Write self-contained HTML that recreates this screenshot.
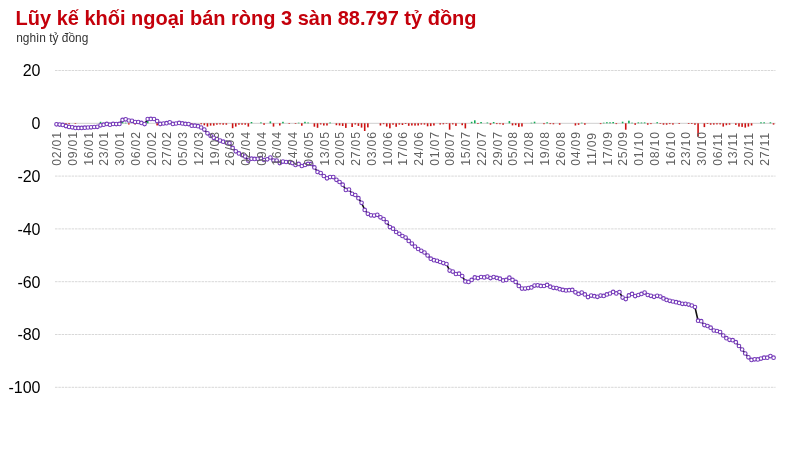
<!DOCTYPE html>
<html><head><meta charset="utf-8"><title>Lũy kế khối ngoại</title>
<style>
html,body{margin:0;padding:0;background:#fff;}
body{width:800px;height:452px;overflow:hidden;position:relative;}
svg{position:absolute;left:0;top:0;display:block;}
text{font-family:"Liberation Sans",Arial,Helvetica,sans-serif;}
svg{will-change:transform;}
</style></head><body>
<svg width="800" height="452" viewBox="0 0 800 452">
<rect width="800" height="452" fill="#fff"/>
<text transform="translate(15.6,25.3) scale(1,1.04)" font-size="20" font-weight="bold" fill="#c4000b">Lũy kế khối ngoại bán ròng 3 sàn 88.797 tỷ đồng</text>
<text x="16.2" y="42.2" font-size="11.9" fill="#333">nghìn tỷ đồng</text>

<line x1="55" x2="775.5" y1="70.50" y2="70.50" stroke="#d8d8d8" stroke-width="1" stroke-dasharray="2.5 0.83"/>
<text x="40.5" y="76.30" font-size="16" text-anchor="end" fill="#000">20</text>
<text x="40.5" y="129.10" font-size="16" text-anchor="end" fill="#000">0</text>
<line x1="55" x2="775.5" y1="176.10" y2="176.10" stroke="#d8d8d8" stroke-width="1" stroke-dasharray="2.5 0.83"/>
<text x="40.5" y="181.90" font-size="16" text-anchor="end" fill="#000">-20</text>
<line x1="55" x2="775.5" y1="228.90" y2="228.90" stroke="#d8d8d8" stroke-width="1" stroke-dasharray="2.5 0.83"/>
<text x="40.5" y="234.70" font-size="16" text-anchor="end" fill="#000">-40</text>
<line x1="55" x2="775.5" y1="281.70" y2="281.70" stroke="#d8d8d8" stroke-width="1" stroke-dasharray="2.5 0.83"/>
<text x="40.5" y="287.50" font-size="16" text-anchor="end" fill="#000">-60</text>
<line x1="55" x2="775.5" y1="334.50" y2="334.50" stroke="#d8d8d8" stroke-width="1" stroke-dasharray="2.5 0.83"/>
<text x="40.5" y="340.30" font-size="16" text-anchor="end" fill="#000">-80</text>
<line x1="55" x2="775.5" y1="387.30" y2="387.30" stroke="#d8d8d8" stroke-width="1" stroke-dasharray="2.5 0.83"/>
<text x="40.5" y="393.10" font-size="16" text-anchor="end" fill="#000">-100</text>
<line x1="55" x2="775.5" y1="123.3" y2="123.3" stroke="#cfcfcf" stroke-width="1"/>
<rect x="65.14" y="123.30" width="1.6" height="1.20" fill="#cc1111"/>
<rect x="68.28" y="123.30" width="1.6" height="0.80" fill="#cc1111"/>
<rect x="74.57" y="123.30" width="1.6" height="0.60" fill="#cc1111"/>
<rect x="99.73" y="121.80" width="1.6" height="1.50" fill="#11aa55"/>
<rect x="106.02" y="122.50" width="1.6" height="0.80" fill="#11aa55"/>
<rect x="109.17" y="123.30" width="1.6" height="0.80" fill="#cc1111"/>
<rect x="112.31" y="122.50" width="1.6" height="0.80" fill="#11aa55"/>
<rect x="121.75" y="119.30" width="1.6" height="4.00" fill="#11aa55"/>
<rect x="124.89" y="122.70" width="1.6" height="0.60" fill="#11aa55"/>
<rect x="128.03" y="123.30" width="1.6" height="1.20" fill="#cc1111"/>
<rect x="134.32" y="123.30" width="1.6" height="1.20" fill="#cc1111"/>
<rect x="140.62" y="123.30" width="1.6" height="0.90" fill="#cc1111"/>
<rect x="143.76" y="123.30" width="1.6" height="1.20" fill="#cc1111"/>
<rect x="146.90" y="118.20" width="1.6" height="5.10" fill="#11aa55"/>
<rect x="156.34" y="123.30" width="1.6" height="2.10" fill="#cc1111"/>
<rect x="159.48" y="123.30" width="1.6" height="2.80" fill="#cc1111"/>
<rect x="168.92" y="122.40" width="1.6" height="0.90" fill="#11aa55"/>
<rect x="172.06" y="123.30" width="1.6" height="1.60" fill="#cc1111"/>
<rect x="190.94" y="123.30" width="1.6" height="1.60" fill="#cc1111"/>
<rect x="200.37" y="123.30" width="1.6" height="1.00" fill="#cc1111"/>
<rect x="203.51" y="123.30" width="1.6" height="2.00" fill="#cc1111"/>
<rect x="206.66" y="123.30" width="1.6" height="3.30" fill="#cc1111"/>
<rect x="209.80" y="123.30" width="1.6" height="2.30" fill="#cc1111"/>
<rect x="212.95" y="123.30" width="1.6" height="2.30" fill="#cc1111"/>
<rect x="216.09" y="123.30" width="1.6" height="1.40" fill="#cc1111"/>
<rect x="219.24" y="123.30" width="1.6" height="1.10" fill="#cc1111"/>
<rect x="222.38" y="123.30" width="1.6" height="1.40" fill="#cc1111"/>
<rect x="225.53" y="123.30" width="1.6" height="1.40" fill="#cc1111"/>
<rect x="231.82" y="123.30" width="1.6" height="4.90" fill="#cc1111"/>
<rect x="234.97" y="123.30" width="1.6" height="3.30" fill="#cc1111"/>
<rect x="238.11" y="123.30" width="1.6" height="1.40" fill="#cc1111"/>
<rect x="241.25" y="123.30" width="1.6" height="1.40" fill="#cc1111"/>
<rect x="244.40" y="123.30" width="1.6" height="1.40" fill="#cc1111"/>
<rect x="247.54" y="123.30" width="1.6" height="3.30" fill="#cc1111"/>
<rect x="250.69" y="122.00" width="1.6" height="1.30" fill="#11aa55"/>
<rect x="260.12" y="122.40" width="1.6" height="0.90" fill="#11aa55"/>
<rect x="263.27" y="123.30" width="1.6" height="1.50" fill="#cc1111"/>
<rect x="269.56" y="121.40" width="1.6" height="1.90" fill="#11aa55"/>
<rect x="272.70" y="123.30" width="1.6" height="3.30" fill="#cc1111"/>
<rect x="278.99" y="123.30" width="1.6" height="2.20" fill="#cc1111"/>
<rect x="282.14" y="121.80" width="1.6" height="1.50" fill="#11aa55"/>
<rect x="288.43" y="123.30" width="1.6" height="0.60" fill="#cc1111"/>
<rect x="294.72" y="123.30" width="1.6" height="0.60" fill="#cc1111"/>
<rect x="297.86" y="122.70" width="1.6" height="0.60" fill="#11aa55"/>
<rect x="301.01" y="123.30" width="1.6" height="2.40" fill="#cc1111"/>
<rect x="304.16" y="121.80" width="1.6" height="1.50" fill="#11aa55"/>
<rect x="307.30" y="122.50" width="1.6" height="0.80" fill="#11aa55"/>
<rect x="313.59" y="123.30" width="1.6" height="3.40" fill="#cc1111"/>
<rect x="316.74" y="123.30" width="1.6" height="4.50" fill="#cc1111"/>
<rect x="319.88" y="123.30" width="1.6" height="1.20" fill="#cc1111"/>
<rect x="323.02" y="123.30" width="1.6" height="2.20" fill="#cc1111"/>
<rect x="326.17" y="123.30" width="1.6" height="2.20" fill="#cc1111"/>
<rect x="329.31" y="122.50" width="1.6" height="0.80" fill="#11aa55"/>
<rect x="335.61" y="123.30" width="1.6" height="1.90" fill="#cc1111"/>
<rect x="338.75" y="123.30" width="1.6" height="2.20" fill="#cc1111"/>
<rect x="341.89" y="123.30" width="1.6" height="2.70" fill="#cc1111"/>
<rect x="345.04" y="123.30" width="1.6" height="4.60" fill="#cc1111"/>
<rect x="351.33" y="123.30" width="1.6" height="3.70" fill="#cc1111"/>
<rect x="354.47" y="123.30" width="1.6" height="1.20" fill="#cc1111"/>
<rect x="357.62" y="123.30" width="1.6" height="2.60" fill="#cc1111"/>
<rect x="360.76" y="123.30" width="1.6" height="4.30" fill="#cc1111"/>
<rect x="363.91" y="123.30" width="1.6" height="7.70" fill="#cc1111"/>
<rect x="367.06" y="123.30" width="1.6" height="4.10" fill="#cc1111"/>
<rect x="379.63" y="123.30" width="1.6" height="2.20" fill="#cc1111"/>
<rect x="382.78" y="123.30" width="1.6" height="0.90" fill="#cc1111"/>
<rect x="385.93" y="123.30" width="1.6" height="3.30" fill="#cc1111"/>
<rect x="389.07" y="123.30" width="1.6" height="5.00" fill="#cc1111"/>
<rect x="392.21" y="123.30" width="1.6" height="1.40" fill="#cc1111"/>
<rect x="395.36" y="123.30" width="1.6" height="3.50" fill="#cc1111"/>
<rect x="398.50" y="123.30" width="1.6" height="1.30" fill="#cc1111"/>
<rect x="401.65" y="123.30" width="1.6" height="1.70" fill="#cc1111"/>
<rect x="404.80" y="123.30" width="1.6" height="0.70" fill="#cc1111"/>
<rect x="407.94" y="123.30" width="1.6" height="2.50" fill="#cc1111"/>
<rect x="411.08" y="123.30" width="1.6" height="2.20" fill="#cc1111"/>
<rect x="414.23" y="123.30" width="1.6" height="2.30" fill="#cc1111"/>
<rect x="417.38" y="123.30" width="1.6" height="2.20" fill="#cc1111"/>
<rect x="420.52" y="123.30" width="1.6" height="1.30" fill="#cc1111"/>
<rect x="423.66" y="123.30" width="1.6" height="1.30" fill="#cc1111"/>
<rect x="426.81" y="123.30" width="1.6" height="3.00" fill="#cc1111"/>
<rect x="429.95" y="123.30" width="1.6" height="2.80" fill="#cc1111"/>
<rect x="433.10" y="123.30" width="1.6" height="2.20" fill="#cc1111"/>
<rect x="439.39" y="123.30" width="1.6" height="1.20" fill="#cc1111"/>
<rect x="442.53" y="123.30" width="1.6" height="1.00" fill="#cc1111"/>
<rect x="445.68" y="123.30" width="1.6" height="0.50" fill="#cc1111"/>
<rect x="448.82" y="123.30" width="1.6" height="6.40" fill="#cc1111"/>
<rect x="451.97" y="123.30" width="1.6" height="1.10" fill="#cc1111"/>
<rect x="455.12" y="123.30" width="1.6" height="2.60" fill="#cc1111"/>
<rect x="461.40" y="123.30" width="1.6" height="1.90" fill="#cc1111"/>
<rect x="464.55" y="123.30" width="1.6" height="5.10" fill="#cc1111"/>
<rect x="470.84" y="121.80" width="1.6" height="1.50" fill="#11aa55"/>
<rect x="473.99" y="120.30" width="1.6" height="3.00" fill="#11aa55"/>
<rect x="477.13" y="123.30" width="1.6" height="0.70" fill="#cc1111"/>
<rect x="480.27" y="122.00" width="1.6" height="1.30" fill="#11aa55"/>
<rect x="486.56" y="122.50" width="1.6" height="0.80" fill="#11aa55"/>
<rect x="489.71" y="123.30" width="1.6" height="1.40" fill="#cc1111"/>
<rect x="492.86" y="122.00" width="1.6" height="1.30" fill="#11aa55"/>
<rect x="496.00" y="123.30" width="1.6" height="0.80" fill="#cc1111"/>
<rect x="499.14" y="123.30" width="1.6" height="0.90" fill="#cc1111"/>
<rect x="502.29" y="123.30" width="1.6" height="1.50" fill="#cc1111"/>
<rect x="508.58" y="121.10" width="1.6" height="2.20" fill="#11aa55"/>
<rect x="511.72" y="123.30" width="1.6" height="2.10" fill="#cc1111"/>
<rect x="514.87" y="123.30" width="1.6" height="1.90" fill="#cc1111"/>
<rect x="518.02" y="123.30" width="1.6" height="3.60" fill="#cc1111"/>
<rect x="521.16" y="123.30" width="1.6" height="3.20" fill="#cc1111"/>
<rect x="530.60" y="122.70" width="1.6" height="0.60" fill="#11aa55"/>
<rect x="533.74" y="121.70" width="1.6" height="1.60" fill="#11aa55"/>
<rect x="543.18" y="123.30" width="1.6" height="0.90" fill="#cc1111"/>
<rect x="546.32" y="122.30" width="1.6" height="1.00" fill="#11aa55"/>
<rect x="549.47" y="123.30" width="1.6" height="0.80" fill="#cc1111"/>
<rect x="552.61" y="123.30" width="1.6" height="1.00" fill="#cc1111"/>
<rect x="558.90" y="123.30" width="1.6" height="1.40" fill="#cc1111"/>
<rect x="574.62" y="123.30" width="1.6" height="2.20" fill="#cc1111"/>
<rect x="577.77" y="123.30" width="1.6" height="1.50" fill="#cc1111"/>
<rect x="580.92" y="122.70" width="1.6" height="0.60" fill="#11aa55"/>
<rect x="584.06" y="123.30" width="1.6" height="1.40" fill="#cc1111"/>
<rect x="599.79" y="123.30" width="1.6" height="0.80" fill="#cc1111"/>
<rect x="602.93" y="122.70" width="1.6" height="0.60" fill="#11aa55"/>
<rect x="606.08" y="122.20" width="1.6" height="1.10" fill="#11aa55"/>
<rect x="609.22" y="122.30" width="1.6" height="1.00" fill="#11aa55"/>
<rect x="612.37" y="122.00" width="1.6" height="1.30" fill="#11aa55"/>
<rect x="615.51" y="123.30" width="1.6" height="0.80" fill="#cc1111"/>
<rect x="621.80" y="121.70" width="1.6" height="1.60" fill="#11aa55"/>
<rect x="624.95" y="123.30" width="1.6" height="6.40" fill="#cc1111"/>
<rect x="628.09" y="120.70" width="1.6" height="2.60" fill="#11aa55"/>
<rect x="631.24" y="122.70" width="1.6" height="0.60" fill="#11aa55"/>
<rect x="634.38" y="123.30" width="1.6" height="1.50" fill="#cc1111"/>
<rect x="637.53" y="122.40" width="1.6" height="0.90" fill="#11aa55"/>
<rect x="640.67" y="122.50" width="1.6" height="0.80" fill="#11aa55"/>
<rect x="643.82" y="122.40" width="1.6" height="0.90" fill="#11aa55"/>
<rect x="646.96" y="123.30" width="1.6" height="1.40" fill="#cc1111"/>
<rect x="650.11" y="123.30" width="1.6" height="0.80" fill="#cc1111"/>
<rect x="656.40" y="122.20" width="1.6" height="1.10" fill="#11aa55"/>
<rect x="659.54" y="123.30" width="1.6" height="0.60" fill="#cc1111"/>
<rect x="662.69" y="123.30" width="1.6" height="1.40" fill="#cc1111"/>
<rect x="665.83" y="123.30" width="1.6" height="1.40" fill="#cc1111"/>
<rect x="668.98" y="123.30" width="1.6" height="0.80" fill="#cc1111"/>
<rect x="672.12" y="123.30" width="1.6" height="1.30" fill="#cc1111"/>
<rect x="678.41" y="123.30" width="1.6" height="0.70" fill="#cc1111"/>
<rect x="687.85" y="123.30" width="1.6" height="0.70" fill="#cc1111"/>
<rect x="690.99" y="123.30" width="1.6" height="0.70" fill="#cc1111"/>
<rect x="694.14" y="123.30" width="1.6" height="1.50" fill="#cc1111"/>
<rect x="697.28" y="123.30" width="1.6" height="13.30" fill="#cc1111"/>
<rect x="703.57" y="123.30" width="1.6" height="3.80" fill="#cc1111"/>
<rect x="706.72" y="123.30" width="1.6" height="0.70" fill="#cc1111"/>
<rect x="709.86" y="123.30" width="1.6" height="1.40" fill="#cc1111"/>
<rect x="713.00" y="123.30" width="1.6" height="1.30" fill="#cc1111"/>
<rect x="716.15" y="123.30" width="1.6" height="1.10" fill="#cc1111"/>
<rect x="719.30" y="123.30" width="1.6" height="1.10" fill="#cc1111"/>
<rect x="722.44" y="123.30" width="1.6" height="3.30" fill="#cc1111"/>
<rect x="725.59" y="123.30" width="1.6" height="1.90" fill="#cc1111"/>
<rect x="728.73" y="123.30" width="1.6" height="1.40" fill="#cc1111"/>
<rect x="735.02" y="123.30" width="1.6" height="1.60" fill="#cc1111"/>
<rect x="738.17" y="123.30" width="1.6" height="3.30" fill="#cc1111"/>
<rect x="741.31" y="123.30" width="1.6" height="3.60" fill="#cc1111"/>
<rect x="744.46" y="123.30" width="1.6" height="4.30" fill="#cc1111"/>
<rect x="747.60" y="123.30" width="1.6" height="3.30" fill="#cc1111"/>
<rect x="750.75" y="123.30" width="1.6" height="2.20" fill="#cc1111"/>
<rect x="760.18" y="122.30" width="1.6" height="1.00" fill="#11aa55"/>
<rect x="763.33" y="122.30" width="1.6" height="1.00" fill="#11aa55"/>
<rect x="769.62" y="122.30" width="1.6" height="1.00" fill="#11aa55"/>
<rect x="772.76" y="123.30" width="1.6" height="1.30" fill="#cc1111"/>
<polyline points="56.50,124.30 59.65,124.60 62.79,124.90 65.94,126.10 69.08,126.90 72.22,127.30 75.37,127.90 78.52,127.90 81.66,127.90 84.81,127.70 87.95,127.50 91.09,127.30 94.24,127.00 97.38,126.80 100.53,125.30 103.67,124.70 106.82,123.90 109.97,124.70 113.11,123.90 116.25,124.10 119.40,123.90 122.55,119.90 125.69,119.30 128.83,120.50 131.98,120.80 135.12,122.00 138.27,122.00 141.42,122.90 144.56,124.10 147.70,119.00 150.85,118.90 154.00,119.00 157.14,121.10 160.28,123.90 163.43,123.50 166.57,123.20 169.72,122.30 172.87,123.90 176.01,123.50 179.16,122.90 182.30,123.40 185.44,123.90 188.59,124.10 191.74,125.70 194.88,125.70 198.03,126.20 201.17,127.50 204.31,129.60 207.46,133.30 210.60,135.80 213.75,137.80 216.90,139.10 220.04,140.60 223.19,141.70 226.33,142.60 229.47,143.20 232.62,147.90 235.77,151.30 238.91,153.40 242.06,155.10 245.20,156.60 248.34,160.60 251.49,158.70 254.63,158.90 257.78,158.80 260.93,158.20 264.07,160.00 267.22,159.30 270.36,157.50 273.50,160.50 276.65,160.50 279.79,163.10 282.94,161.60 286.09,162.00 289.23,162.00 292.38,163.10 295.52,165.00 298.66,163.90 301.81,166.00 304.96,164.90 308.10,163.90 311.25,163.90 314.39,167.40 317.54,171.90 320.68,173.00 323.82,176.00 326.97,178.30 330.12,177.10 333.26,177.10 336.41,179.80 339.55,182.00 342.69,184.70 345.84,189.90 348.99,189.50 352.13,193.80 355.27,195.00 358.42,198.20 361.56,202.80 364.71,209.90 367.86,213.80 371.00,215.30 374.14,215.60 377.29,214.80 380.44,217.30 383.58,219.00 386.73,222.30 389.87,227.10 393.01,228.70 396.16,232.00 399.31,233.80 402.45,236.00 405.60,237.60 408.74,240.90 411.88,243.60 415.03,246.50 418.18,249.00 421.32,250.80 424.46,252.50 427.61,255.50 430.75,258.70 433.90,260.20 437.05,260.80 440.19,262.00 443.33,263.10 446.48,264.00 449.62,270.60 452.77,271.60 455.92,274.00 459.06,273.70 462.20,276.10 465.35,281.40 468.50,281.90 471.64,279.90 474.79,277.40 477.93,278.10 481.07,277.00 484.22,277.40 487.37,276.60 490.51,278.10 493.66,277.00 496.80,277.90 499.94,278.70 503.09,280.40 506.24,279.90 509.38,277.70 512.52,279.90 515.67,281.90 518.82,285.90 521.96,288.60 525.11,288.60 528.25,288.10 531.39,287.40 534.54,285.60 537.68,285.30 540.83,285.90 543.98,286.00 547.12,284.90 550.26,286.70 553.41,287.80 556.56,288.10 559.70,289.20 562.85,289.90 565.99,290.40 569.13,290.20 572.28,289.90 575.42,292.30 578.57,293.90 581.72,292.60 584.86,294.40 588.00,297.10 591.15,295.60 594.29,296.20 597.44,296.80 600.59,295.60 603.73,295.90 606.88,294.40 610.02,293.50 613.16,291.90 616.31,293.40 619.46,292.00 622.60,297.60 625.75,299.10 628.89,295.40 632.03,293.90 635.18,296.10 638.33,295.00 641.47,293.90 644.62,292.60 647.76,295.00 650.90,295.80 654.05,296.80 657.20,295.80 660.34,296.60 663.49,298.40 666.63,299.90 669.77,300.80 672.92,301.50 676.07,302.20 679.21,302.90 682.36,303.80 685.50,303.80 688.64,304.60 691.79,305.50 694.94,307.00 698.08,320.70 701.23,321.20 704.37,325.10 707.51,326.00 710.66,327.70 713.80,330.50 716.95,331.00 720.10,332.10 723.24,335.50 726.38,338.20 729.53,339.80 732.67,340.20 735.82,342.20 738.97,346.00 742.11,349.50 745.25,353.50 748.40,357.30 751.54,359.90 754.69,359.30 757.84,359.40 760.98,358.60 764.12,357.70 767.27,357.70 770.41,356.10 773.56,357.70" fill="none" stroke="#111" stroke-width="1.6"/>
<g fill="#fff" stroke="#7539b9" stroke-width="1.1">
<circle cx="56.50" cy="124.30" r="1.8"/>
<circle cx="59.65" cy="124.60" r="1.8"/>
<circle cx="62.79" cy="124.90" r="1.8"/>
<circle cx="65.94" cy="126.10" r="1.8"/>
<circle cx="69.08" cy="126.90" r="1.8"/>
<circle cx="72.22" cy="127.30" r="1.8"/>
<circle cx="75.37" cy="127.90" r="1.8"/>
<circle cx="78.52" cy="127.90" r="1.8"/>
<circle cx="81.66" cy="127.90" r="1.8"/>
<circle cx="84.81" cy="127.70" r="1.8"/>
<circle cx="87.95" cy="127.50" r="1.8"/>
<circle cx="91.09" cy="127.30" r="1.8"/>
<circle cx="94.24" cy="127.00" r="1.8"/>
<circle cx="97.38" cy="126.80" r="1.8"/>
<circle cx="100.53" cy="125.30" r="1.8"/>
<circle cx="103.67" cy="124.70" r="1.8"/>
<circle cx="106.82" cy="123.90" r="1.8"/>
<circle cx="109.97" cy="124.70" r="1.8"/>
<circle cx="113.11" cy="123.90" r="1.8"/>
<circle cx="116.25" cy="124.10" r="1.8"/>
<circle cx="119.40" cy="123.90" r="1.8"/>
<circle cx="122.55" cy="119.90" r="1.8"/>
<circle cx="125.69" cy="119.30" r="1.8"/>
<circle cx="128.83" cy="120.50" r="1.8"/>
<circle cx="131.98" cy="120.80" r="1.8"/>
<circle cx="135.12" cy="122.00" r="1.8"/>
<circle cx="138.27" cy="122.00" r="1.8"/>
<circle cx="141.42" cy="122.90" r="1.8"/>
<circle cx="144.56" cy="124.10" r="1.8"/>
<circle cx="147.70" cy="119.00" r="1.8"/>
<circle cx="150.85" cy="118.90" r="1.8"/>
<circle cx="154.00" cy="119.00" r="1.8"/>
<circle cx="157.14" cy="121.10" r="1.8"/>
<circle cx="160.28" cy="123.90" r="1.8"/>
<circle cx="163.43" cy="123.50" r="1.8"/>
<circle cx="166.57" cy="123.20" r="1.8"/>
<circle cx="169.72" cy="122.30" r="1.8"/>
<circle cx="172.87" cy="123.90" r="1.8"/>
<circle cx="176.01" cy="123.50" r="1.8"/>
<circle cx="179.16" cy="122.90" r="1.8"/>
<circle cx="182.30" cy="123.40" r="1.8"/>
<circle cx="185.44" cy="123.90" r="1.8"/>
<circle cx="188.59" cy="124.10" r="1.8"/>
<circle cx="191.74" cy="125.70" r="1.8"/>
<circle cx="194.88" cy="125.70" r="1.8"/>
<circle cx="198.03" cy="126.20" r="1.8"/>
<circle cx="201.17" cy="127.50" r="1.8"/>
<circle cx="204.31" cy="129.60" r="1.8"/>
<circle cx="207.46" cy="133.30" r="1.8"/>
<circle cx="210.60" cy="135.80" r="1.8"/>
<circle cx="213.75" cy="137.80" r="1.8"/>
<circle cx="216.90" cy="139.10" r="1.8"/>
<circle cx="220.04" cy="140.60" r="1.8"/>
<circle cx="223.19" cy="141.70" r="1.8"/>
<circle cx="226.33" cy="142.60" r="1.8"/>
<circle cx="229.47" cy="143.20" r="1.8"/>
<circle cx="232.62" cy="147.90" r="1.8"/>
<circle cx="235.77" cy="151.30" r="1.8"/>
<circle cx="238.91" cy="153.40" r="1.8"/>
<circle cx="242.06" cy="155.10" r="1.8"/>
<circle cx="245.20" cy="156.60" r="1.8"/>
<circle cx="248.34" cy="160.60" r="1.8"/>
<circle cx="251.49" cy="158.70" r="1.8"/>
<circle cx="254.63" cy="158.90" r="1.8"/>
<circle cx="257.78" cy="158.80" r="1.8"/>
<circle cx="260.93" cy="158.20" r="1.8"/>
<circle cx="264.07" cy="160.00" r="1.8"/>
<circle cx="267.22" cy="159.30" r="1.8"/>
<circle cx="270.36" cy="157.50" r="1.8"/>
<circle cx="273.50" cy="160.50" r="1.8"/>
<circle cx="276.65" cy="160.50" r="1.8"/>
<circle cx="279.79" cy="163.10" r="1.8"/>
<circle cx="282.94" cy="161.60" r="1.8"/>
<circle cx="286.09" cy="162.00" r="1.8"/>
<circle cx="289.23" cy="162.00" r="1.8"/>
<circle cx="292.38" cy="163.10" r="1.8"/>
<circle cx="295.52" cy="165.00" r="1.8"/>
<circle cx="298.66" cy="163.90" r="1.8"/>
<circle cx="301.81" cy="166.00" r="1.8"/>
<circle cx="304.96" cy="164.90" r="1.8"/>
<circle cx="308.10" cy="163.90" r="1.8"/>
<circle cx="311.25" cy="163.90" r="1.8"/>
<circle cx="314.39" cy="167.40" r="1.8"/>
<circle cx="317.54" cy="171.90" r="1.8"/>
<circle cx="320.68" cy="173.00" r="1.8"/>
<circle cx="323.82" cy="176.00" r="1.8"/>
<circle cx="326.97" cy="178.30" r="1.8"/>
<circle cx="330.12" cy="177.10" r="1.8"/>
<circle cx="333.26" cy="177.10" r="1.8"/>
<circle cx="336.41" cy="179.80" r="1.8"/>
<circle cx="339.55" cy="182.00" r="1.8"/>
<circle cx="342.69" cy="184.70" r="1.8"/>
<circle cx="345.84" cy="189.90" r="1.8"/>
<circle cx="348.99" cy="189.50" r="1.8"/>
<circle cx="352.13" cy="193.80" r="1.8"/>
<circle cx="355.27" cy="195.00" r="1.8"/>
<circle cx="358.42" cy="198.20" r="1.8"/>
<circle cx="361.56" cy="202.80" r="1.8"/>
<circle cx="364.71" cy="209.90" r="1.8"/>
<circle cx="367.86" cy="213.80" r="1.8"/>
<circle cx="371.00" cy="215.30" r="1.8"/>
<circle cx="374.14" cy="215.60" r="1.8"/>
<circle cx="377.29" cy="214.80" r="1.8"/>
<circle cx="380.44" cy="217.30" r="1.8"/>
<circle cx="383.58" cy="219.00" r="1.8"/>
<circle cx="386.73" cy="222.30" r="1.8"/>
<circle cx="389.87" cy="227.10" r="1.8"/>
<circle cx="393.01" cy="228.70" r="1.8"/>
<circle cx="396.16" cy="232.00" r="1.8"/>
<circle cx="399.31" cy="233.80" r="1.8"/>
<circle cx="402.45" cy="236.00" r="1.8"/>
<circle cx="405.60" cy="237.60" r="1.8"/>
<circle cx="408.74" cy="240.90" r="1.8"/>
<circle cx="411.88" cy="243.60" r="1.8"/>
<circle cx="415.03" cy="246.50" r="1.8"/>
<circle cx="418.18" cy="249.00" r="1.8"/>
<circle cx="421.32" cy="250.80" r="1.8"/>
<circle cx="424.46" cy="252.50" r="1.8"/>
<circle cx="427.61" cy="255.50" r="1.8"/>
<circle cx="430.75" cy="258.70" r="1.8"/>
<circle cx="433.90" cy="260.20" r="1.8"/>
<circle cx="437.05" cy="260.80" r="1.8"/>
<circle cx="440.19" cy="262.00" r="1.8"/>
<circle cx="443.33" cy="263.10" r="1.8"/>
<circle cx="446.48" cy="264.00" r="1.8"/>
<circle cx="449.62" cy="270.60" r="1.8"/>
<circle cx="452.77" cy="271.60" r="1.8"/>
<circle cx="455.92" cy="274.00" r="1.8"/>
<circle cx="459.06" cy="273.70" r="1.8"/>
<circle cx="462.20" cy="276.10" r="1.8"/>
<circle cx="465.35" cy="281.40" r="1.8"/>
<circle cx="468.50" cy="281.90" r="1.8"/>
<circle cx="471.64" cy="279.90" r="1.8"/>
<circle cx="474.79" cy="277.40" r="1.8"/>
<circle cx="477.93" cy="278.10" r="1.8"/>
<circle cx="481.07" cy="277.00" r="1.8"/>
<circle cx="484.22" cy="277.40" r="1.8"/>
<circle cx="487.37" cy="276.60" r="1.8"/>
<circle cx="490.51" cy="278.10" r="1.8"/>
<circle cx="493.66" cy="277.00" r="1.8"/>
<circle cx="496.80" cy="277.90" r="1.8"/>
<circle cx="499.94" cy="278.70" r="1.8"/>
<circle cx="503.09" cy="280.40" r="1.8"/>
<circle cx="506.24" cy="279.90" r="1.8"/>
<circle cx="509.38" cy="277.70" r="1.8"/>
<circle cx="512.52" cy="279.90" r="1.8"/>
<circle cx="515.67" cy="281.90" r="1.8"/>
<circle cx="518.82" cy="285.90" r="1.8"/>
<circle cx="521.96" cy="288.60" r="1.8"/>
<circle cx="525.11" cy="288.60" r="1.8"/>
<circle cx="528.25" cy="288.10" r="1.8"/>
<circle cx="531.39" cy="287.40" r="1.8"/>
<circle cx="534.54" cy="285.60" r="1.8"/>
<circle cx="537.68" cy="285.30" r="1.8"/>
<circle cx="540.83" cy="285.90" r="1.8"/>
<circle cx="543.98" cy="286.00" r="1.8"/>
<circle cx="547.12" cy="284.90" r="1.8"/>
<circle cx="550.26" cy="286.70" r="1.8"/>
<circle cx="553.41" cy="287.80" r="1.8"/>
<circle cx="556.56" cy="288.10" r="1.8"/>
<circle cx="559.70" cy="289.20" r="1.8"/>
<circle cx="562.85" cy="289.90" r="1.8"/>
<circle cx="565.99" cy="290.40" r="1.8"/>
<circle cx="569.13" cy="290.20" r="1.8"/>
<circle cx="572.28" cy="289.90" r="1.8"/>
<circle cx="575.42" cy="292.30" r="1.8"/>
<circle cx="578.57" cy="293.90" r="1.8"/>
<circle cx="581.72" cy="292.60" r="1.8"/>
<circle cx="584.86" cy="294.40" r="1.8"/>
<circle cx="588.00" cy="297.10" r="1.8"/>
<circle cx="591.15" cy="295.60" r="1.8"/>
<circle cx="594.29" cy="296.20" r="1.8"/>
<circle cx="597.44" cy="296.80" r="1.8"/>
<circle cx="600.59" cy="295.60" r="1.8"/>
<circle cx="603.73" cy="295.90" r="1.8"/>
<circle cx="606.88" cy="294.40" r="1.8"/>
<circle cx="610.02" cy="293.50" r="1.8"/>
<circle cx="613.16" cy="291.90" r="1.8"/>
<circle cx="616.31" cy="293.40" r="1.8"/>
<circle cx="619.46" cy="292.00" r="1.8"/>
<circle cx="622.60" cy="297.60" r="1.8"/>
<circle cx="625.75" cy="299.10" r="1.8"/>
<circle cx="628.89" cy="295.40" r="1.8"/>
<circle cx="632.03" cy="293.90" r="1.8"/>
<circle cx="635.18" cy="296.10" r="1.8"/>
<circle cx="638.33" cy="295.00" r="1.8"/>
<circle cx="641.47" cy="293.90" r="1.8"/>
<circle cx="644.62" cy="292.60" r="1.8"/>
<circle cx="647.76" cy="295.00" r="1.8"/>
<circle cx="650.90" cy="295.80" r="1.8"/>
<circle cx="654.05" cy="296.80" r="1.8"/>
<circle cx="657.20" cy="295.80" r="1.8"/>
<circle cx="660.34" cy="296.60" r="1.8"/>
<circle cx="663.49" cy="298.40" r="1.8"/>
<circle cx="666.63" cy="299.90" r="1.8"/>
<circle cx="669.77" cy="300.80" r="1.8"/>
<circle cx="672.92" cy="301.50" r="1.8"/>
<circle cx="676.07" cy="302.20" r="1.8"/>
<circle cx="679.21" cy="302.90" r="1.8"/>
<circle cx="682.36" cy="303.80" r="1.8"/>
<circle cx="685.50" cy="303.80" r="1.8"/>
<circle cx="688.64" cy="304.60" r="1.8"/>
<circle cx="691.79" cy="305.50" r="1.8"/>
<circle cx="694.94" cy="307.00" r="1.8"/>
<circle cx="698.08" cy="320.70" r="1.8"/>
<circle cx="701.23" cy="321.20" r="1.8"/>
<circle cx="704.37" cy="325.10" r="1.8"/>
<circle cx="707.51" cy="326.00" r="1.8"/>
<circle cx="710.66" cy="327.70" r="1.8"/>
<circle cx="713.80" cy="330.50" r="1.8"/>
<circle cx="716.95" cy="331.00" r="1.8"/>
<circle cx="720.10" cy="332.10" r="1.8"/>
<circle cx="723.24" cy="335.50" r="1.8"/>
<circle cx="726.38" cy="338.20" r="1.8"/>
<circle cx="729.53" cy="339.80" r="1.8"/>
<circle cx="732.67" cy="340.20" r="1.8"/>
<circle cx="735.82" cy="342.20" r="1.8"/>
<circle cx="738.97" cy="346.00" r="1.8"/>
<circle cx="742.11" cy="349.50" r="1.8"/>
<circle cx="745.25" cy="353.50" r="1.8"/>
<circle cx="748.40" cy="357.30" r="1.8"/>
<circle cx="751.54" cy="359.90" r="1.8"/>
<circle cx="754.69" cy="359.30" r="1.8"/>
<circle cx="757.84" cy="359.40" r="1.8"/>
<circle cx="760.98" cy="358.60" r="1.8"/>
<circle cx="764.12" cy="357.70" r="1.8"/>
<circle cx="767.27" cy="357.70" r="1.8"/>
<circle cx="770.41" cy="356.10" r="1.8"/>
<circle cx="773.56" cy="357.70" r="1.8"/>
</g>
<g font-size="12.3" letter-spacing="0.75" fill="#606060">
<text transform="translate(61.30,165.8) rotate(-90)">02/01</text>
<text transform="translate(77.02,165.8) rotate(-90)">09/01</text>
<text transform="translate(92.75,165.8) rotate(-90)">16/01</text>
<text transform="translate(108.47,165.8) rotate(-90)">23/01</text>
<text transform="translate(124.20,165.8) rotate(-90)">30/01</text>
<text transform="translate(139.93,165.8) rotate(-90)">06/02</text>
<text transform="translate(155.65,165.8) rotate(-90)">20/02</text>
<text transform="translate(171.38,165.8) rotate(-90)">27/02</text>
<text transform="translate(187.10,165.8) rotate(-90)">05/03</text>
<text transform="translate(202.83,165.8) rotate(-90)">12/03</text>
<text transform="translate(218.55,165.8) rotate(-90)">19/03</text>
<text transform="translate(234.28,165.8) rotate(-90)">26/03</text>
<text transform="translate(250.00,165.8) rotate(-90)">02/04</text>
<text transform="translate(265.73,165.8) rotate(-90)">09/04</text>
<text transform="translate(281.45,165.8) rotate(-90)">16/04</text>
<text transform="translate(297.18,165.8) rotate(-90)">24/04</text>
<text transform="translate(312.90,165.8) rotate(-90)">06/05</text>
<text transform="translate(328.62,165.8) rotate(-90)">13/05</text>
<text transform="translate(344.35,165.8) rotate(-90)">20/05</text>
<text transform="translate(360.07,165.8) rotate(-90)">27/05</text>
<text transform="translate(375.80,165.8) rotate(-90)">03/06</text>
<text transform="translate(391.53,165.8) rotate(-90)">10/06</text>
<text transform="translate(407.25,165.8) rotate(-90)">17/06</text>
<text transform="translate(422.98,165.8) rotate(-90)">24/06</text>
<text transform="translate(438.70,165.8) rotate(-90)">01/07</text>
<text transform="translate(454.43,165.8) rotate(-90)">08/07</text>
<text transform="translate(470.15,165.8) rotate(-90)">15/07</text>
<text transform="translate(485.88,165.8) rotate(-90)">22/07</text>
<text transform="translate(501.60,165.8) rotate(-90)">29/07</text>
<text transform="translate(517.32,165.8) rotate(-90)">05/08</text>
<text transform="translate(533.05,165.8) rotate(-90)">12/08</text>
<text transform="translate(548.77,165.8) rotate(-90)">19/08</text>
<text transform="translate(564.50,165.8) rotate(-90)">26/08</text>
<text transform="translate(580.22,165.8) rotate(-90)">04/09</text>
<text transform="translate(595.95,165.8) rotate(-90)">11/09</text>
<text transform="translate(611.67,165.8) rotate(-90)">17/09</text>
<text transform="translate(627.40,165.8) rotate(-90)">25/09</text>
<text transform="translate(643.12,165.8) rotate(-90)">01/10</text>
<text transform="translate(658.85,165.8) rotate(-90)">08/10</text>
<text transform="translate(674.57,165.8) rotate(-90)">16/10</text>
<text transform="translate(690.30,165.8) rotate(-90)">23/10</text>
<text transform="translate(706.02,165.8) rotate(-90)">30/10</text>
<text transform="translate(721.75,165.8) rotate(-90)">06/11</text>
<text transform="translate(737.47,165.8) rotate(-90)">13/11</text>
<text transform="translate(753.20,165.8) rotate(-90)">20/11</text>
<text transform="translate(768.92,165.8) rotate(-90)">27/11</text>
</g>
</svg>
</body></html>
